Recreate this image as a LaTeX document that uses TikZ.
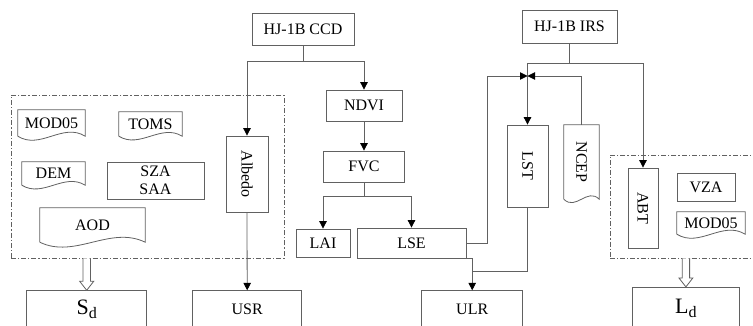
\documentclass[tikz,border=0pt]{standalone}
\usepackage{fontspec}
\usepackage{graphicx}
\setmainfont{Liberation Serif}
\usetikzlibrary{arrows.meta,calc}
\newcommand\docframe[2]{\draw[ln] (#1.south west) -- (#1.north west) -- (#1.north east) -- (#1.south east) .. controls ($(#1.south east)!0.333!(#1.south west)+(0,-#2)$) and ($(#1.south east)!0.667!(#1.south west)+(0,#2)$) .. (#1.south west);}
\newcommand\hollowarrow[2]{\draw[ln,fill=white] ($(#1)+(-3.7,0)$) -- ($(#2)+(-3.7,-9)$) -- ($(#2)+(-7,-9)$) -- (#2) -- ($(#2)+(7,-9)$) -- ($(#2)+(3.7,-9)$) -- ($(#1)+(3.7,0)$);}
\begin{document}
\begin{tikzpicture}[x=1pt,y=-1pt,
  ln/.style={draw=black!62, line width=0.8pt},
  box/.style={ln, inner sep=0pt, font=\fontsize{16}{18.5}\selectfont, align=center},
  doc/.style={inner sep=0pt, font=\fontsize{16}{18.5}\selectfont, align=center},
  arr/.style={ln, -{Triangle[length=7.5pt,width=7.5pt,color=black]}},
  grp/.style={draw=black!62, line width=0.8pt, dash pattern=on 5pt off 2pt on 1.2pt off 2pt, inner sep=0pt},
  big/.style={font=\fontsize{22}{24}\selectfont}]
\clip (0,0) rectangle (753,325);
% groups
\node[grp, minimum width=273pt, minimum height=163pt] (lgroup) at (147.5,176.5) {};
\node[grp, minimum width=150pt, minimum height=103pt] (rgroup) at (685,206.5) {};
% boxes
\node[box, minimum width=102pt, minimum height=32pt] (ccd) at (303,29) {HJ-1B CCD};
\node[box, minimum width=95pt, minimum height=33pt] (irs) at (569.5,26.5) {HJ-1B IRS};
\node[box, minimum width=76pt, minimum height=31pt] (ndvi) at (364,105.5) {NDVI};
\node[box, minimum width=81pt, minimum height=31pt] (fvc) at (364,166.5) {FVC};
\node[box, minimum width=54pt, minimum height=28pt] (lai) at (323,243) {LAI};
\node[box, minimum width=109pt, minimum height=30pt] (lse) at (411.5,243) {LSE};
\node[box, minimum width=42pt, minimum height=76pt] (albedo) at (247,174) {\rotatebox{-90}{Albedo}};
\node[box, minimum width=41pt, minimum height=82pt] (lst) at (527.5,166) {\rotatebox{-90}{LST}};
\node[box, minimum width=30pt, minimum height=80pt] (abt) at (643,208) {\rotatebox{-90}{ABT}};
\node[box, minimum width=58pt, minimum height=28pt] (vza) at (706,187) {VZA};
\node[box, minimum width=97pt, minimum height=37pt] (sza) at (155.5,180.5) {SZA\\SAA};
\node[box, minimum width=120pt, minimum height=37pt] (sd) at (86.7,309.2) {\fontsize{22}{24}\selectfont S\raisebox{-4pt}{\fontsize{16}{18}\selectfont d}};
\node[box, minimum width=109pt, minimum height=38pt] (usr) at (247.2,309.7) {USR};
\node[box, minimum width=101pt, minimum height=38pt] (ulr) at (472.2,309.7) {ULR};
\node[box, minimum width=106.3pt, minimum height=43pt] (ld) at (685.9,308.8) {\fontsize{22}{24}\selectfont L\raisebox{-4pt}{\fontsize{16}{18}\selectfont d}};
% document shapes
\node[doc, minimum width=67pt, minimum height=26pt] (mod05l) at (51.5,123) {MOD05};
\node[doc, minimum width=63pt, minimum height=24pt] (toms) at (150.5,124) {TOMS};
\node[doc, minimum width=63pt, minimum height=23pt] (dem) at (53.5,173.5) {DEM};
\node[doc, minimum width=105pt, minimum height=34pt] (aod) at (92.5,225) {AOD};
\node[doc, minimum width=35pt, minimum height=74pt] (ncep) at (581.5,162) {\rotatebox{-90}{NCEP}};
\node[doc, minimum width=68pt, minimum height=22pt] (mod05r) at (711,223) {MOD05};
\docframe{mod05l}{14}
\docframe{toms}{13}
\docframe{dem}{13}
\docframe{aod}{17}
\docframe{ncep}{12}
\docframe{mod05r}{14}
% connectors
\draw[ln] (ccd.south) -- ++(0,16) coordinate (c1);
\draw[arr] (c1) -| (albedo.north);
\draw[arr] (c1) -| (ndvi.north);
\draw[arr] (ndvi.south) -- (fvc.north);
\draw[ln] (fvc.south) -- ++(0,14) coordinate (f1);
\draw[arr] (f1) -| (lai.north);
\draw[arr] (f1) -| (lse.north);
\draw[arr] (albedo.south) -- (usr.north);
\coordinate (j) at (527.5,76);
\draw[ln] (irs.south) -- ++(0,20) coordinate (i1);
\draw[arr] (i1) -| (lst.north);
\draw[arr] (i1) -| (abt.north);
\draw[arr] (lse.east) -- ++(21,0) |- (j);
\draw[arr] (ncep.north) |- (j);
\draw[arr] (lse.south east) -| (ulr.north);
\draw[ln] (lst.south) |- ($(ulr.north)+(0,-19)$);
\coordinate (h1) at (sd.north |- lgroup.south);
\coordinate (h2) at (ld.north |- rgroup.south);
\hollowarrow{h1}{sd.north}
\hollowarrow{h2}{ld.north}
\end{tikzpicture}
\end{document}
